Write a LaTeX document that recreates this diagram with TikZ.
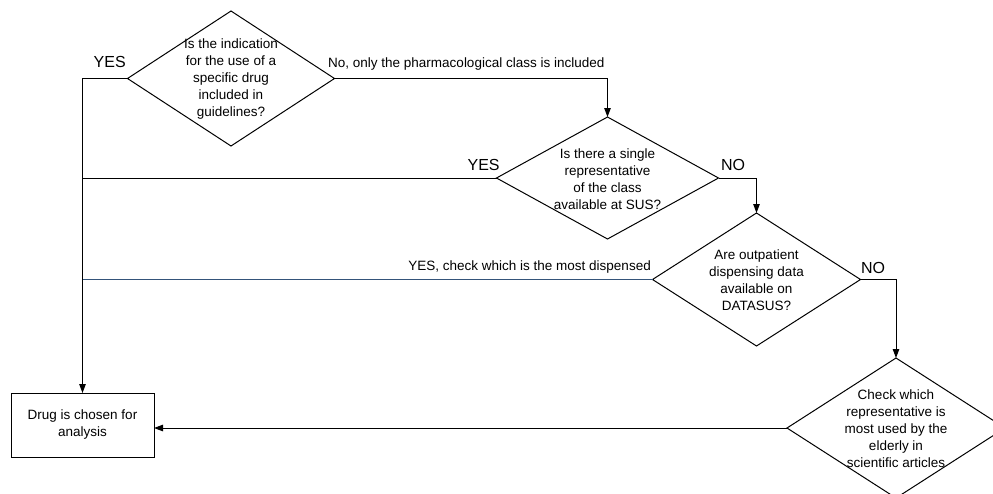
\documentclass[tikz,border=0pt]{standalone}
\usepackage{fontspec}
\setmainfont{Liberation Sans}
\usetikzlibrary{shapes.geometric,arrows.meta}
\definecolor{lineblue}{RGB}{52,84,122}
\begin{document}
\begin{tikzpicture}[x=1pt,y=-1pt,
  dia/.style={draw,diamond,line width=1pt,inner sep=0pt,outer sep=0pt},
  txt/.style={align=center,font=\fontsize{13.5}{17}\selectfont,inner sep=0pt},
  yn/.style={font=\fontsize{16}{19}\selectfont,inner sep=0pt},
  lbl/.style={font=\fontsize{13.5}{16}\selectfont,inner sep=0pt},
  conn/.style={line width=1pt},
  arr/.style={conn,-{Triangle[width=6.5pt,length=9pt]}},
  boxst/.style={draw,rectangle,line width=1pt,minimum width=143pt,minimum height=64pt,inner sep=0pt,outer sep=0pt,align=center,font=\fontsize{13.5}{17}\selectfont}
]
\useasboundingbox (0,0) rectangle (993,493);
\clip (0,0) rectangle (993,493);
\fill[white] (0,0) rectangle (993,493);

% decision nodes
\node[dia,minimum width=207pt,minimum height=135pt] (d1) at (231,78.5) {};
\node[txt] (t1) at (231,79.5) {Is the indication\\for the use of a\\specific drug\\included in\\guidelines?};

\node[dia,minimum width=222pt,minimum height=122pt] (d2) at (607.5,178) {};
\node[txt] (t2) at (607.5,179) {Is there a single\\representative\\of the class\\available at SUS?};

\node[dia,minimum width=208pt,minimum height=133pt] (d3) at (756.5,279.5) {};
\node[txt] (t3) at (756.5,280) {Are outpatient\\dispensing data\\available on\\DATASUS?};

\node[dia,minimum width=218pt,minimum height=140pt] (d4) at (896,428) {};
\node[txt] (t4) at (896,429) {Check which\\representative is\\most used by the\\elderly in\\scientific articles};

\node[boxst] (b) at (82.5,425) {Drug is chosen for\\analysis};

% connectors
\draw[arr] (d1.west) -| (b.north);
\draw[arr] (d1.east) -| (d2.north);
\draw[conn] (d2.west) -- (d2.west -| b.north);
\draw[conn,lineblue] (d3.west) -- (d3.west -| b.north);
\draw[arr] (d2.east) -| (d3.north);
\draw[arr] (d3.east) -| (d4.north);
\draw[arr] (d4.west) -- (d4.west -| b.east);

% labels
\node[yn,anchor=base] (y1) at (109.7,67.7) {YES};
\node[lbl,anchor=base west] (l1) at (328,67.5) {No, only the pharmacological class is included};
\node[yn,anchor=base] (y2) at (483.6,170.7) {YES};
\node[yn,anchor=base] (n2) at (733,170.7) {NO};
\node[lbl,anchor=base east] (l3) at (651,270.5) {YES, check which is the most dispensed};
\node[yn,anchor=base] (n3) at (873,273.3) {NO};
\end{tikzpicture}
\end{document}
